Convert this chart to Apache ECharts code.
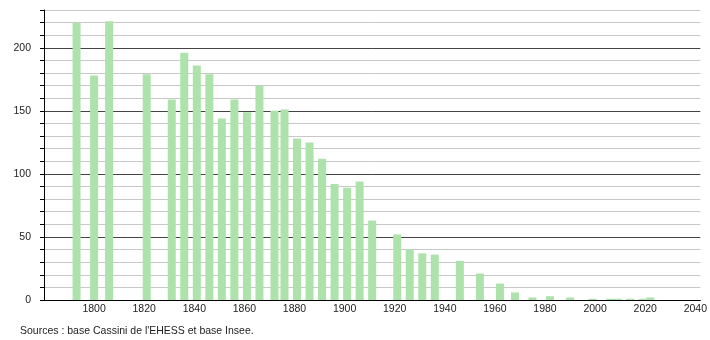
<!DOCTYPE html>
<html>
<head>
<meta charset="utf-8">
<script src="https://cdn.jsdelivr.net/npm/echarts@6/dist/echarts.min.js"></script>
<style>
html,body{margin:0;padding:0;background:#fff;}
#chart{width:710px;height:340px;}
</style>
</head>
<body>
<div id="chart"></div>
<script>
const years = [1793,1800,1806,1821,1831,1836,1841,1846,1851,1856,1861,1866,1872,1876,1881,1886,1891,1896,1901,1906,1911,1921,1926,1931,1936,1946,1954,1962,1968,1975,1982,1990,1999,2006,2009,2014,2019,2022];
const population = [220,178,221,179,159,196,186,179,144,159,149,170,150,151,128,125,112,92,89,94,63,52,40,37,36,31,21,13,6,2,3,2,1,1,1,1,1,2];
const xTickLabels = [1800,1820,1840,1860,1880,1900,1920,1940,1960,1980,2000,2020,2040];
const yTickLabels = [0,50,100,150,200];
const sourceText = "Sources : base Cassini de l'EHESS et base Insee.";

const chart = echarts.init(document.getElementById('chart'), null, {renderer:'canvas'});
const font = '"Liberation Sans", Arial, sans-serif';
chart.setOption({
  animation:false,
  backgroundColor:'#fff',
  title:{
    text: sourceText,
    left: 15, top: 321,
    textStyle:{fontSize:10.5, fontWeight:'normal', color:'#222', fontFamily:font}
  },
  grid:{left:44, right:9, top:10, bottom:40},
  xAxis:{
    type:'value', min:1780, max:2042, interval:20,
    axisLine:{show:true, lineStyle:{color:'#000', width:1}},
    axisTick:{show:false},
    splitLine:{show:false},
    axisLabel:{
      margin:4, fontSize:10.5, color:'#222', fontFamily:font,
      showMinLabel:false, showMaxLabel:true,
      formatter: v => xTickLabels.includes(v) ? String(v) : ''
    }
  },
  yAxis:{
    type:'value', min:0, max:230, interval:10,
    axisLine:{show:true, lineStyle:{color:'#000', width:1}},
    axisTick:{show:true, length:4, lineStyle:{color:'#000'}},
    splitLine:{show:true, lineStyle:{color:['#444','#c8c8c8','#c8c8c8','#c8c8c8','#c8c8c8'], width:1}},
    axisLabel:{
      margin:13, fontSize:10.5, color:'#222', fontFamily:font,
      formatter: v => yTickLabels.includes(v) ? String(v) : ''
    }
  },
  series:[{
    type:'bar',
    data: years.map((y,i)=>[y, population[i]]),
    barWidth:8,
    itemStyle:{color:'#ade3ab'}
  }]
});
</script>
</body>
</html>
